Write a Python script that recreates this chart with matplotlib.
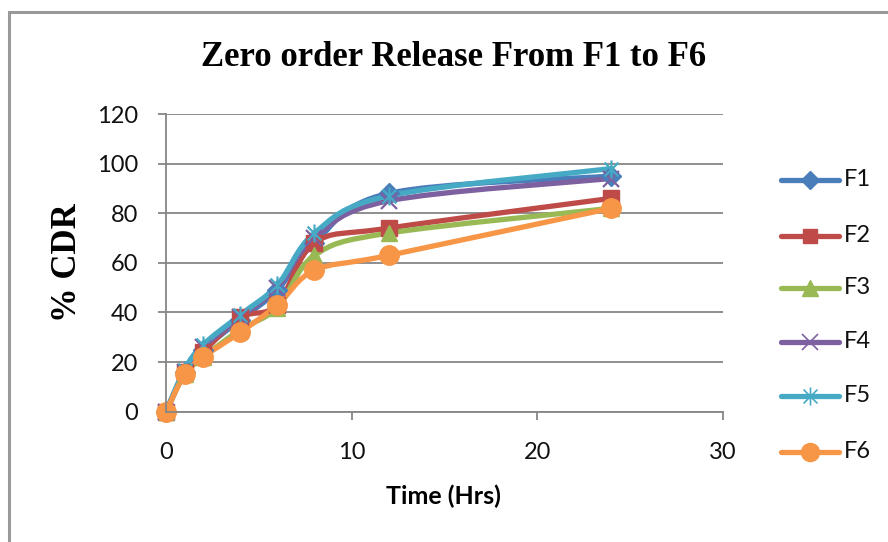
import matplotlib
matplotlib.use("Agg")
import matplotlib.pyplot as plt
from matplotlib.path import Path
from matplotlib.patches import PathPatch, Rectangle
from matplotlib.lines import Line2D

# data
hours = [0, 1, 2, 4, 6, 8, 12, 24]
f1 = [0, 16, 25, 37, 49, 68, 88, 95]
f2 = [0, 16, 24, 38, 43, 68, 74, 86]
f3 = [0, 15, 22, 33, 42, 63, 72, 82]
f4 = [0, 16, 26, 38, 50, 70, 85, 94]
f5 = [0, 17, 27, 39, 51, 72, 87, 98]
f6 = [0, 15, 22, 32, 43, 57, 63, 82]
names = ["F1", "F2", "F3", "F4", "F5", "F6"]
series = [f1, f2, f3, f4, f5, f6]

colors = ["#4A7EBB", "#BE4B48", "#98B954", "#7D60A0", "#46AAC5", "#F79646"]

# asterisk marker like excel's "star"
star = Path([(-1, -1), (1, 1), (-1, 1), (1, -1), (0, -1.3), (0, 1.3)],
            [Path.MOVETO, Path.LINETO, Path.MOVETO, Path.LINETO, Path.MOVETO, Path.LINETO])
markers = [("D", 10, True), ("s", 11, True), ("^", 12, True),
           ("x", 12, False), (star, 13, False), ("o", 14, True)]


def smooth_path(xs, ys):
    # catmull-rom style bezier, the way excel smooths lines
    pts = list(zip(xs, ys))
    verts = [pts[0]]
    codes = [Path.MOVETO]
    n = len(pts)
    for i in range(n - 1):
        p0 = pts[i - 1] if i > 0 else pts[i]
        p1 = pts[i]
        p2 = pts[i + 1]
        p3 = pts[i + 2] if i + 2 < n else pts[i + 1]
        c1 = (p1[0] + (p2[0] - p0[0]) / 6.0, p1[1] + (p2[1] - p0[1]) / 6.0)
        c2 = (p2[0] - (p3[0] - p1[0]) / 6.0, p2[1] - (p3[1] - p1[1]) / 6.0)
        verts += [c1, c2, p2]
        codes += [Path.CURVE4] * 3
    return Path(verts, codes)


fig = plt.figure(figsize=(8.88, 5.42), dpi=100)
ax = fig.add_axes([166 / 888, 1 - 411.7 / 542, (722.7 - 166) / 888, (411.7 - 114) / 542])

tick_font = "Lato"
grey = "#868686"

for ys, c, (m, ms, filled), nm in zip(series, colors, markers, names):
    ax.add_patch(PathPatch(smooth_path(hours, ys), facecolor="none", edgecolor=c,
                           lw=3.8, capstyle="round", joinstyle="round", clip_on=False))
    if filled:
        ax.plot(hours, ys, ls="none", marker=m, ms=ms, color=c, mec=c, clip_on=False)
    else:
        ax.plot(hours, ys, ls="none", marker=m, ms=ms, color=c, mfc="none", mec=c,
                mew=1.6, clip_on=False)

ax.set_xlim(0, 30)
ax.set_ylim(0, 120)
ax.set_xticks([0, 10, 20, 30])
ax.set_yticks(range(0, 121, 20))
ax.grid(axis="y", color=grey, lw=1.3)
ax.set_axisbelow(True)
for s in ["top", "right"]:
    ax.spines[s].set_visible(False)
for s in ["left", "bottom"]:
    ax.spines[s].set_color(grey)
    ax.spines[s].set_linewidth(1.3)
ax.tick_params(direction="out", length=6, width=1.3, color=grey, labelsize=17)
ax.tick_params(axis="x", pad=16)
ax.tick_params(axis="y", pad=14)
for lab in ax.get_xticklabels() + ax.get_yticklabels():
    lab.set_fontfamily(tick_font)
    lab.set_color("#111111")

fig.text(454 / 888, 1 - 58 / 542, "Zero order Release From F1 to F6", ha="center", va="center",
         fontsize=25, fontweight="bold", family="Liberation Serif")
fig.text(443 / 888, 1 - 496 / 542, "Time (Hrs)", ha="center", va="center",
         fontsize=18, fontweight="bold", family=tick_font)
fig.text(67 / 888, 1 - 263 / 542, "% CDR", ha="center", va="center", rotation=90,
         fontsize=25, fontweight="bold", family="Liberation Serif")

# legend drawn by hand
leg_y = [180, 236, 288, 342, 396, 452]
for ys, c, (m, ms, filled), nm, py in zip(series, colors, markers, names, leg_y):
    yf = 1 - py / 542
    fig.add_artist(Line2D([781 / 888, 839 / 888], [yf, yf], color=c, lw=3.8,
                          solid_capstyle="round"))
    if filled:
        fig.add_artist(Line2D([810 / 888], [yf], ls="none", marker=m, ms=ms - 1, color=c))
    else:
        fig.add_artist(Line2D([810 / 888], [yf], ls="none", marker=m, ms=ms, mfc="none",
                              mec=c, mew=1.2))
    fig.text(844 / 888, yf, nm, ha="left", va="center", fontsize=17, family=tick_font,
             color="#111111")

# chart border
fig.add_artist(Rectangle((9 / 888, -0.5), 2.0, 0.5 + (1 - 12 / 542), transform=fig.transFigure,
                         facecolor="none", edgecolor="#9A9A9A", lw=2.2))

fig.savefig("out.png", dpi=100)
